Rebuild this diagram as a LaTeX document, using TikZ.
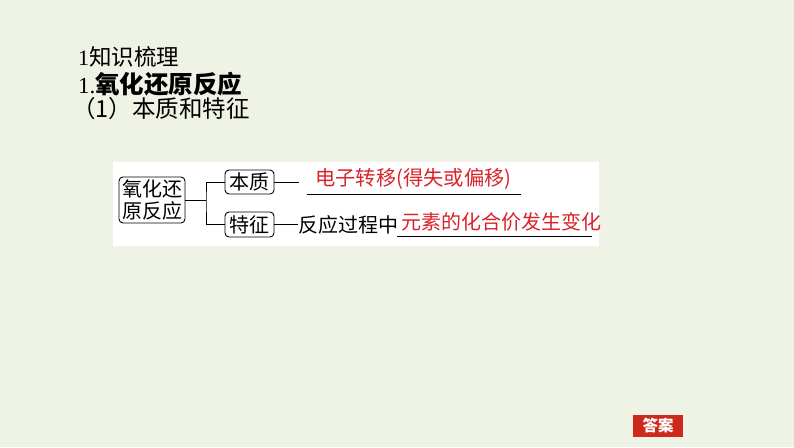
\documentclass[tikz,border=0pt]{standalone}
\usepackage{fontspec}
\setmainfont{Liberation Serif}
\newfontfamily\cjk{Noto Sans CJK SC}
\definecolor{bg}{HTML}{EEF3E6}
\definecolor{redt}{HTML}{D9232A}
\definecolor{btn}{HTML}{CE2A1C}
\begin{document}
\begin{tikzpicture}[x=1pt,y=-1pt,
  box/.style={draw,rounded corners=4pt,line width=0.9pt,inner sep=1pt,font=\cjk\fontsize{20}{22}\selectfont},
  ln/.style={line width=0.9pt},
  redtx/.style={text=redt,font=\cjk\fontsize{20}{22}\selectfont,inner sep=0pt},
  blk/.style={font=\cjk\fontsize{20}{22}\selectfont,inner sep=0pt}]
\fill[bg] (0,0) rectangle (794,447);
\useasboundingbox (0,0) rectangle (794,447);
\fill[white] (113,162) rectangle (599,246);
% titles
\node[anchor=west,inner sep=0pt,font=\fontsize{22}{24}\selectfont] (t1) at (78,57) {1{\cjk\fontsize{22.5}{24}\selectfont 知识梳理}};
\node[anchor=west,inner sep=0pt,font=\fontsize{23}{24}\selectfont] (t2) at (78,84) {1.{\cjk\bfseries\fontsize{24.5}{24}\selectfont 氧化还原反应}};
\node[anchor=west,inner sep=0pt,font=\cjk\fontsize{23.5}{24}\selectfont] (t3) at (72,109) {（1）本质和特征};
% diagram
\node[box,minimum width=66pt,minimum height=46pt,align=center,font=\cjk\fontsize{20}{21.5}\selectfont] (root) at (152,200) {氧化还\\原反应};
\node[box,minimum width=49pt,minimum height=24pt] (bz) at (249.5,182) {本质};
\node[box,minimum width=49pt,minimum height=25pt] (tz) at (249.5,224.5) {特征};
\coordinate (j) at (206,200);
\draw[ln] (root.east) -- (j);
\draw[ln] (bz.west) -| (j) |- (tz.west);
\coordinate (bzend) at (299,182);
\draw[ln] (bz.east) -- (bzend);
\node[blk,anchor=west] (gc) at (298,224.5) {反应过程中};
\draw[ln] (tz.east) -- (gc.west);
\node[redtx,anchor=west,font=\cjk\fontsize{20.3}{22}\selectfont] (r1) at (315,179) {电子转移(得失或偏移)};
\coordinate (u1a) at (307,194);
\coordinate (u1b) at (521,194);
\draw[ln] (u1a) -- (u1b);
\node[redtx,anchor=west] (r2) at (401,222) {元素的化合价发生变化};
\coordinate (u2a) at (397,236);
\coordinate (u2b) at (592,236);
\draw[ln] (u2a) -- (u2b);
% button
\node[fill=btn,text=white,minimum width=50pt,minimum height=22pt,inner sep=0pt,font=\cjk\bfseries\fontsize{15.5}{16}\selectfont] (ans) at (658,426) {答案};
\end{tikzpicture}
\end{document}
